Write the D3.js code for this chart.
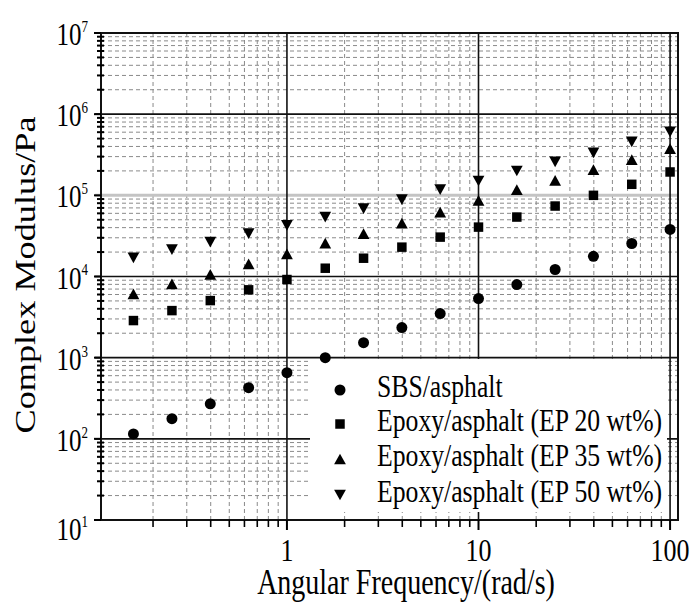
<!DOCTYPE html>
<html>
<head>
<meta charset="utf-8">
<script src="https://cdn.jsdelivr.net/npm/d3@7"></script>
<style>
  body { margin: 0; background: #fff; }
  text { font-family: "Liberation Serif", "Times New Roman", serif; fill: #000; }
</style>
</head>
<body>
<svg id="chart" width="692" height="603"></svg>
<script>
// Angular frequency (rad/s), 5 points per decade
const freq = [0.158, 0.251, 0.398, 0.631, 1, 1.585, 2.512, 3.981, 6.31, 10, 15.85, 25.12, 39.81, 63.1, 100];

// Complex modulus (Pa)
const sbs  = [115, 177, 270, 427, 653, 1000, 1530, 2345, 3490, 5350, 7960, 12200, 17700, 25500, 38000];
const ep20 = [2865, 3800, 5050, 6850, 9180, 12650, 16800, 23000, 30560, 40600, 54000, 73800, 100000, 136700, 194000];
const ep35 = [6110, 8130, 10590, 14350, 19060, 25770, 33650, 45500, 62200, 86700, 117500, 153100, 207600, 276000, 377300];
const ep50 = [17000, 21400, 26500, 33650, 42650, 54000, 68500, 88500, 117500, 150200, 199500, 257600, 332900, 455000, 604500];

const seriesNames = ["SBS/asphalt", "Epoxy/asphalt (EP 20 wt%)", "Epoxy/asphalt (EP 35 wt%)", "Epoxy/asphalt (EP 50 wt%)"];
const xTickLabels = ["1", "10", "100"];
const yTickExps = [1, 2, 3, 4, 5, 6, 7];

const svg = d3.select("#chart");

// plot box
const pLeft = 101, pRight = 678, pTop = 33, pBottom = 520;

const x = d3.scaleLog().domain([0.107, 110]).range([pLeft, pRight]);
const y = d3.scaleLog().domain([10, 1e7]).range([pBottom, pTop]);

// the picture is stretched vertically, so the text is too
const VS = 1.25;

// minor grid values
const xMinor = [], yMinor = [];
for (let e = -1; e <= 2; e++) for (let m = 2; m <= 9; m++) {
  const v = m * Math.pow(10, e);
  if (v > x.domain()[0] && v < x.domain()[1]) xMinor.push(v);
}
for (let e = 1; e < 7; e++) for (let m = 2; m <= 9; m++) yMinor.push(m * Math.pow(10, e));
const xMajor = [1, 10, 100];
const yMajor = yTickExps.map(e => Math.pow(10, e));

const grid = svg.append("g");

// minor dashed grid
grid.selectAll(".vmin").data(xMinor).enter().append("line")
  .attr("x1", d => x(d)).attr("x2", d => x(d))
  .attr("y1", pTop).attr("y2", pBottom)
  .attr("stroke", "#8a8a8a").attr("stroke-width", 1)
  .attr("stroke-dasharray", "4,3");

grid.selectAll(".hmin").data(yMinor).enter().append("line")
  .attr("x1", pLeft).attr("x2", pRight)
  .attr("y1", d => y(d)).attr("y2", d => y(d))
  .attr("stroke", "#8a8a8a").attr("stroke-width", 1)
  .attr("stroke-dasharray", "4,3");

// major grid (10^5 comes out light grey in the original)
grid.selectAll(".hmaj").data(yMajor.filter(d => d > 10)).enter().append("line")
  .attr("x1", pLeft - 6).attr("x2", pRight)
  .attr("y1", d => y(d)).attr("y2", d => y(d))
  .attr("stroke", d => d === 1e5 ? "#c4c4c4" : "#111")
  .attr("stroke-width", d => d === 1e5 ? 3 : 1.6);

grid.selectAll(".vmaj").data(xMajor).enter().append("line")
  .attr("x1", d => x(d)).attr("x2", d => x(d))
  .attr("y1", pTop).attr("y2", pBottom)
  .attr("stroke", "#111").attr("stroke-width", 1.6);

// frame
svg.append("rect")
  .attr("x", pLeft).attr("y", pTop)
  .attr("width", pRight - pLeft).attr("height", pBottom - pTop)
  .attr("fill", "none").attr("stroke", "#111").attr("stroke-width", 2);

// ticks on left axis
svg.append("g").selectAll("line").data(yMinor).enter().append("line")
  .attr("x1", pLeft - 4).attr("x2", pLeft + 3)
  .attr("y1", d => y(d)).attr("y2", d => y(d))
  .attr("stroke", "#000").attr("stroke-width", 2);
svg.append("g").selectAll("line").data(yMajor).enter().append("line")
  .attr("x1", pLeft - 7).attr("x2", pLeft)
  .attr("y1", d => y(d)).attr("y2", d => y(d))
  .attr("stroke", "#000").attr("stroke-width", 2);

// ticks on bottom axis
svg.append("g").selectAll("line").data(xMinor).enter().append("line")
  .attr("x1", d => x(d)).attr("x2", d => x(d))
  .attr("y1", pBottom).attr("y2", pBottom + 7)
  .attr("stroke", "#000").attr("stroke-width", 1.6);
svg.append("g").selectAll("line").data(xMajor).enter().append("line")
  .attr("x1", d => x(d)).attr("x2", d => x(d))
  .attr("y1", pBottom).attr("y2", pBottom + 10)
  .attr("stroke", "#000").attr("stroke-width", 2);

// x tick labels
svg.append("g").selectAll("text").data(xMajor).enter().append("text")
  .attr("transform", d => `translate(${x(d)},${pBottom + 41}) scale(1,${VS})`)
  .attr("text-anchor", "middle")
  .style("font-size", "26px")
  .text((d, i) => xTickLabels[i]);

// y tick labels 10^n (the bottom one sits a little lower in the original)
const yl = svg.append("g").selectAll("text").data(yTickExps).enter().append("text")
  .attr("transform", d => `translate(88,${y(Math.pow(10, d)) + (d === 1 ? 20 : 12)}) scale(1,${VS})`)
  .attr("text-anchor", "end")
  .style("font-size", "25px");
yl.append("tspan").text("10");
yl.append("tspan").attr("dy", -10.5).style("font-size", "13px").text(d => d);

// axis titles
svg.append("text")
  .attr("transform", `translate(406,594) scale(1,${VS})`)
  .attr("text-anchor", "middle")
  .style("font-size", "28px")
  .text("Angular Frequency/(rad/s)");

svg.append("text")
  .attr("transform", `translate(35,275) rotate(-90) scale(${VS},1)`)
  .attr("text-anchor", "middle")
  .style("font-size", "29px")
  .text("Complex Modulus/Pa");

// marker shapes, triangles centred on their box
const triUp = {
  draw(ctx, size) {
    const h = Math.sqrt(size), w = h * 1.1;
    ctx.moveTo(0, -h / 2); ctx.lineTo(w / 2, h / 2); ctx.lineTo(-w / 2, h / 2); ctx.closePath();
  }
};
const triDown = {
  draw(ctx, size) {
    const h = Math.sqrt(size), w = h * 1.1;
    ctx.moveTo(0, h / 2); ctx.lineTo(w / 2, -h / 2); ctx.lineTo(-w / 2, -h / 2); ctx.closePath();
  }
};
const shapes = [
  d3.symbol().type(d3.symbolCircle).size(95),
  d3.symbol().type(d3.symbolSquare).size(90),
  d3.symbol().type(triUp).size(115),
  d3.symbol().type(triDown).size(115)
];

// legend background
const lg = { x: 310, y: 359, w: 357, h: 153 };
svg.append("rect")
  .attr("x", lg.x).attr("y", lg.y).attr("width", lg.w).attr("height", lg.h)
  .attr("fill", "#fff");

// data points
const allSeries = [sbs, ep20, ep35, ep50];
allSeries.forEach((vals, si) => {
  svg.append("g").selectAll("path").data(vals).enter().append("path")
    .attr("transform", (d, i) => `translate(${x(freq[i])},${y(d)})`)
    .attr("d", shapes[si]())
    .attr("fill", "#000");
});

// legend entries
const rowY = [390, 424, 459, 495];
const leg = svg.append("g").selectAll("g").data(seriesNames).enter().append("g");
leg.append("path")
  .attr("transform", (d, i) => `translate(340,${rowY[i]})`)
  .attr("d", (d, i) => shapes[i]())
  .attr("fill", "#000");
leg.append("text")
  .attr("transform", (d, i) => `translate(377,${rowY[i] + 7}) scale(1,1.2)`)
  .style("font-size", "25.7px")
  .text(d => d);
</script>
</body>
</html>
